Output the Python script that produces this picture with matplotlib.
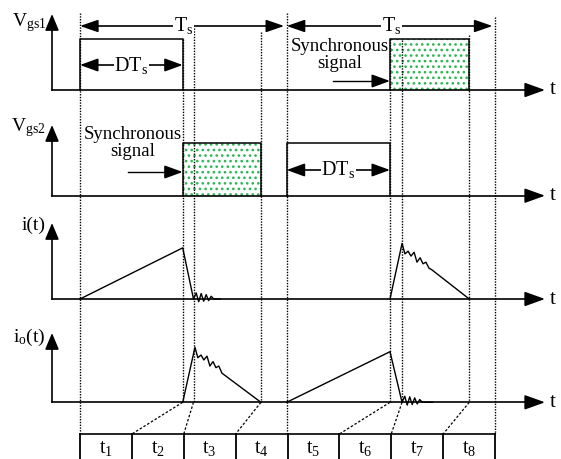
import numpy as np
import matplotlib.pyplot as plt

plt.rcParams['font.family'] = 'Liberation Serif'
plt.rcParams['mathtext.fontset'] = 'custom'
plt.rcParams['mathtext.rm'] = 'Liberation Serif'
plt.rcParams['mathtext.it'] = 'Liberation Serif:italic'
plt.rcParams['hatch.linewidth'] = 1.1

# switching instants (one switching period Ts = 1)
instants = [0.0, 0.495, 0.547, 0.872, 0.996, 1.494, 1.552, 1.876, 2.0]
table_edges = [0.0, 0.25, 0.5, 0.75, 1.0, 1.25, 1.5, 1.75, 2.0]
table_labels = [r'$\mathrm{t_%d}$' % k for k in range(1, 9)]

# gate pulses (start, end, amplitude)
vgs1_plain = (0.0, 0.495, 0.93)
vgs1_sync = (1.494, 1.876, 0.93)
vgs2_sync = (0.495, 0.872, 0.95)
vgs2_plain = (0.996, 1.494, 0.95)

# inductor current i(t)
i_t = [0.0, 0.495, 0.547, 0.560, 0.572, 0.584, 0.596, 0.608, 0.620, 0.632, 0.645, 0.675,
       1.494, 1.552, 1.566, 1.581, 1.595, 1.610, 1.624, 1.639, 1.653, 1.667, 1.682, 1.696, 1.876]
i_v = [0.0, 0.93, 0.0, 0.11, -0.05, 0.10, -0.04, 0.08, -0.03, 0.05, 0.0, 0.0,
       0.0, 1.01, 0.82, 0.87, 0.78, 0.85, 0.67, 0.75, 0.64, 0.67, 0.56, 0.53, 0.0]

# output current io(t)
io_t = [0.495, 0.554, 0.568, 0.583, 0.597, 0.612, 0.626, 0.641, 0.655, 0.669, 0.684, 0.872,
        0.996, 1.494, 1.552, 1.565, 1.577, 1.589, 1.601, 1.613, 1.625, 1.637, 1.650, 1.700]
io_v = [0.0, 1.0, 0.81, 0.86, 0.77, 0.84, 0.66, 0.74, 0.63, 0.66, 0.53, 0.0,
        0.0, 0.92, 0.0, 0.11, -0.05, 0.10, -0.04, 0.08, -0.03, 0.05, 0.0, 0.0]

# layout (pixel rows)
px_per_unit = 207.5
x0_px = 80
base = {'vgs1': 90, 'vgs2': 195.7, 'i': 299, 'io': 402.3}
amp_px = 55
table_top = 434

fig = plt.figure(figsize=(5.61, 4.59), dpi=100)
ax = fig.add_axes([0, 0, 1, 1])
ax.set_xlim(-x0_px / px_per_unit, (561 - x0_px) / px_per_unit)
ax.set_ylim(459, 0)
ax.axis('off')

def px(x):
    return (x - x0_px) / px_per_unit

green = '#2cb553'

def arrow(x1, y1, x2, y2, style='-|>', lw=1.2, hl=1.0, hw=0.4):
    ax.annotate('', xy=(x2, y2), xytext=(x1, y1),
                arrowprops=dict(arrowstyle=style + ',head_length=%g,head_width=%g' % (hl, hw),
                                color='black', lw=lw, shrinkA=0, shrinkB=0, mutation_scale=10))

# axes of each panel
ax_x = px(52)
tops = {'vgs1': 14, 'vgs2': 125, 'i': 223, 'io': 333}
labels = {'vgs1': r'$\mathrm{V_{gs1}}$', 'vgs2': r'$\mathrm{V_{gs2}}$',
          'i': 'i(t)', 'io': r'$\mathrm{i_o(t)}$'}
label_y = {'vgs1': 23, 'vgs2': 128, 'i': 225, 'io': 337}
for k in base:
    b = base[k]
    ax.plot([ax_x, ax_x], [b, tops[k] + 12], color='black', lw=1.2)
    arrow(ax_x, tops[k] + 14, ax_x, tops[k], hl=1.0, hw=0.42)
    ax.plot([ax_x, px(530)], [b, b], color='black', lw=1.2)
    arrow(px(527), b, px(545), b, hl=1.25, hw=0.45)
    ax.text(px(553), b, 't', fontsize=15, ha='center', va='center')
    ax.text(px(46), label_y[k], labels[k], fontsize=14, ha='right', va='center')

# dotted vertical guides
guide_top = [13, 39, 28, 32, 13, 39, 40, 35, 17]
for t, y_top in zip(instants, guide_top):
    y_bot = table_top if t in (0.0, 0.996, 2.0) else base['io']
    ax.plot([t, t], [y_top, y_bot], color='black', lw=1.0, ls=(0, (1, 1)))

# Ts arrows
for a, b_, c in [(0.0, 0.996, 0.5), (0.996, 2.0, 1.5)]:
    arrow(a + 0.06, 26, a, 26, hl=1.1, hw=0.38)
    arrow(b_ - 0.07, 26, b_ - 0.012, 26, hl=1.1, hw=0.38)
    ax.plot([a + 0.05, b_ - 0.05], [26, 26], color='black', lw=1.2)
    ax.text(c, 26, r'$\mathrm{T_s}$', fontsize=14.5, ha='center', va='center',
            bbox=dict(facecolor='white', edgecolor='none', pad=0.5))

# gate pulses
def pulse(p, b, sync):
    t0, t1, h = p
    top = b - h * amp_px
    if sync:
        ax.fill_between([t0, t1], [b, b], [top, top], facecolor='white', edgecolor=green,
                        hatch='...', linewidth=0)
    ax.plot([t0, t0, t1, t1], [b, top, top, b], color='black', lw=1.1)

pulse(vgs1_plain, base['vgs1'], False)
pulse(vgs1_sync, base['vgs1'], True)
pulse(vgs2_sync, base['vgs2'], True)
pulse(vgs2_plain, base['vgs2'], False)

# DTs arrows
for (t0, t1, _), y, c in [(vgs1_plain, 65, 0.248), (vgs2_plain, 170, 1.245)]:
    arrow(t0 + 0.08, y, t0, y, hl=1.1, hw=0.4)
    arrow(t1 - 0.08, y, t1, y, hl=1.1, hw=0.4)
    ax.plot([t0 + 0.06, t1 - 0.06], [y, y], color='black', lw=1.2)
    ax.text(c, y, r'$\mathrm{DT_s}$', fontsize=14.5, ha='center', va='center',
            bbox=dict(facecolor='white', edgecolor='none', pad=0.5))

# synchronous signal notes
for c, ytxt, xa, ya, xb in [(1.253, 55, 1.219, 81, 1.494), (0.253, 143, 0.23, 172, 0.495)]:
    ax.text(c, ytxt, 'Synchronous\nsignal', fontsize=13.5, ha='center', va='center',
            linespacing=1.05)
    ax.plot([xa, xb - 0.05], [ya, ya], color='black', lw=1.0)
    arrow(xb - 0.08, ya, xb, ya, hl=1.1, hw=0.4)

# currents
ax.plot(i_t[:12], [base['i'] - v * amp_px for v in i_v[:12]], color='black', lw=1.0)
ax.plot(i_t[12:], [base['i'] - v * amp_px for v in i_v[12:]], color='black', lw=1.0)
ax.plot(io_t[:12], [base['io'] - v * amp_px for v in io_v[:12]], color='black', lw=1.0)
ax.plot(io_t[12:], [base['io'] - v * amp_px for v in io_v[12:]], color='black', lw=1.0)

# mapping lines to the interval table
for t, e in zip([0.495, 0.547, 0.872, 1.494, 1.552, 1.876], [0.25, 0.5, 0.75, 1.25, 1.5, 1.75]):
    ax.plot([t, e], [base['io'], table_top], color='black', lw=0.9, ls=(0, (2, 1.5)))

# interval table
ax.plot([0, 2.0], [table_top, table_top], color='black', lw=1.2)
for e in table_edges:
    ax.plot([e, e], [table_top, 462], color='black', lw=1.3)
for k, lab in enumerate(table_labels):
    ax.text((table_edges[k] + table_edges[k + 1]) / 2, 448, lab, fontsize=14.5,
            ha='center', va='center')

fig.savefig('out.png', dpi=100)
